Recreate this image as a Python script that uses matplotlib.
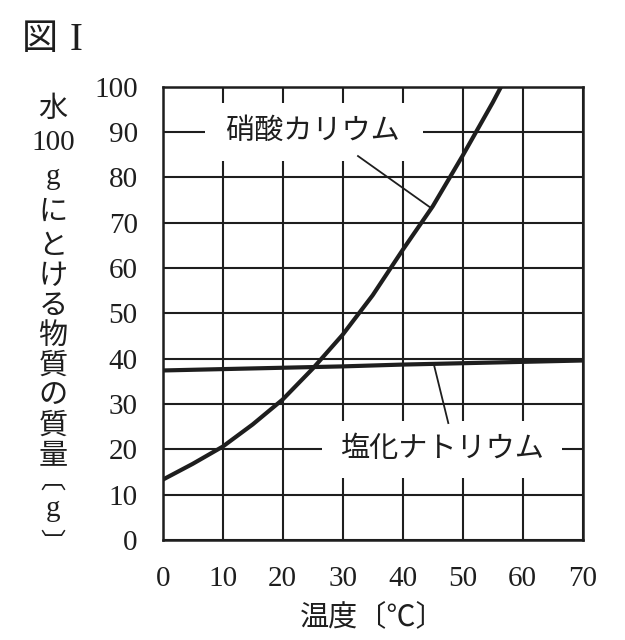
import matplotlib
matplotlib.use("Agg")
from matplotlib import pyplot as plt
from matplotlib.patches import Rectangle

plt.rcParams['font.family'] = ['Liberation Serif', 'Noto Sans CJK JP', 'DejaVu Sans']

# solubility (g per 100 g water)
kno3_temp = [0, 5, 10, 15, 20, 25, 30, 35, 40, 45, 50, 55, 60]
kno3_mass = [13.3, 16.8, 20.6, 25.5, 31.0, 37.8, 45.3, 54.0, 64.0, 73.6, 84.8, 96.5, 109.0]
nacl_temp = [0, 10, 20, 30, 40, 50, 60, 70]
nacl_mass = [37.4, 37.7, 38.0, 38.3, 38.7, 39.0, 39.3, 39.6]

x_ticks = [0, 10, 20, 30, 40, 50, 60, 70]
y_ticks = [0, 10, 20, 30, 40, 50, 60, 70, 80, 90, 100]

# vertical y label, one piece per line
ylabel_parts = ['水', '100', 'g', 'に', 'と', 'け', 'る', '物', '質', 'の', '質', '量', '︹', 'g', '︺']
ylabel_px = [110, 143, 177, 213, 247, 277, 307, 337, 367, 397, 427, 457, 482, 509, 545]
ylabel_size = [21] * 12 + [18, 21, 18]

ink = '#1e1e1e'
W, H = 625, 640

fig = plt.figure(figsize=(W / 100, H / 100), dpi=100)
ax = fig.add_axes([162.7 / W, 1 - 540 / H, 420 / W, 453.3 / H])

ax.set_xlim(0, 70)
ax.set_ylim(0, 100)
ax.set_xticks(x_ticks)
ax.set_yticks(y_ticks)
ax.tick_params(length=0, labelsize=21, colors=ink)
ax.tick_params(axis='x', pad=19)
ax.tick_params(axis='y', pad=18)
ax.set_axisbelow(True)
ax.grid(True, color=ink, linewidth=1.5)
for s in ax.spines.values():
    s.set_linewidth(1.8)
    s.set_color(ink)

# white boxes that hide the grid behind the curve names
ax.add_patch(Rectangle((7.0, 83.6), 36.45, 12.8, facecolor='white', edgecolor='none', zorder=1.5))
ax.add_patch(Rectangle((26.5, 13.7), 40.1, 12.5, facecolor='white', edgecolor='none', zorder=1.5))

ax.plot(kno3_temp, kno3_mass, color=ink, linewidth=3.0, zorder=3)
ax.plot(nacl_temp, nacl_mass, color=ink, linewidth=3.0, zorder=3)

# leader lines
ax.plot([32.55, 44.55], [84.7, 73.4], color=ink, linewidth=1.3, zorder=3)
ax.plot([45.2, 47.6], [38.7, 25.8], color=ink, linewidth=1.3, zorder=3)

ax.text(24.9, 90, '硝酸カリウム', fontsize=21, ha='center', va='center', color=ink, zorder=4)
ax.text(46.6, 20, '塩化ナトリウム', fontsize=21, ha='center', va='center', color=ink, zorder=4)

ax.set_xlabel('温度〔℃〕', fontsize=21, color=ink, labelpad=8)

for part, py, size in zip(ylabel_parts, ylabel_px, ylabel_size):
    fig.text(53 / W, 1 - py / H, part, fontsize=size,
             ha='center', va='center', color=ink)

fig.text(22 / W, 1 - 40 / H, '図', fontsize=26, ha='left', va='center', color=ink)
fig.text(70 / W, 1 - 40 / H, 'I', fontsize=28, ha='left', va='center', color=ink)

fig.savefig('out.png', dpi=100)
